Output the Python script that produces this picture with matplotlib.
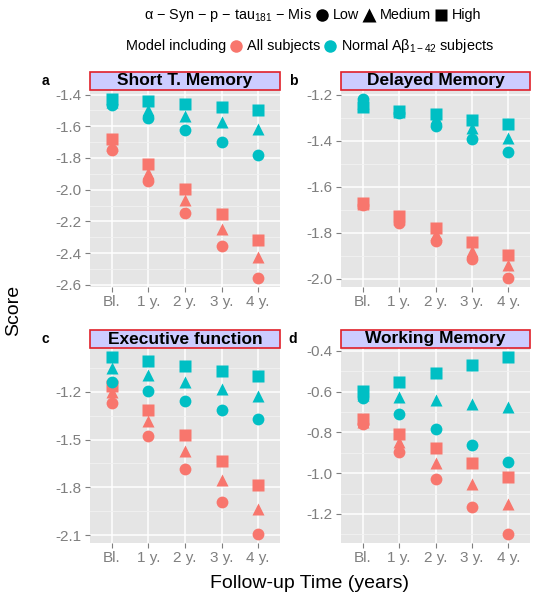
import matplotlib
matplotlib.use('Agg')
import matplotlib.pyplot as plt
from matplotlib.patches import Rectangle
from matplotlib.ticker import MultipleLocator, FuncFormatter

plt.rcParams['font.family'] = ['Liberation Sans', 'DejaVu Sans']
plt.rcParams['mathtext.fontset'] = 'custom'
plt.rcParams['mathtext.rm'] = 'Liberation Sans'
plt.rcParams['mathtext.it'] = 'Liberation Sans:italic'

# ---------------- data ----------------
times = ['Bl.', '1 y.', '2 y.', '3 y.', '4 y.']
levels = ['Low', 'Medium', 'High']
panel_titles = ['Short T. Memory', 'Delayed Memory', 'Executive function', 'Working Memory']
panel_letters = ['a', 'b', 'c', 'd']

stm_all_low = [-1.749, -1.947, -2.150, -2.354, -2.557]
stm_all_med = [-1.717, -1.893, -2.065, -2.247, -2.422]
stm_all_high = [-1.679, -1.835, -1.994, -2.154, -2.315]
stm_norm_low = [-1.469, -1.546, -1.625, -1.700, -1.782]
stm_norm_med = [-1.447, -1.496, -1.535, -1.576, -1.619]
stm_norm_high = [-1.428, -1.443, -1.458, -1.479, -1.496]

dm_all_low = [-1.680, -1.757, -1.836, -1.915, -1.996]
dm_all_med = [-1.676, -1.738, -1.804, -1.878, -1.940]
dm_all_high = [-1.672, -1.726, -1.779, -1.841, -1.895]
dm_norm_low = [-1.219, -1.278, -1.336, -1.394, -1.447]
dm_norm_med = [-1.237, -1.274, -1.303, -1.347, -1.387]
dm_norm_high = [-1.252, -1.270, -1.285, -1.311, -1.328]

ef_all_low = [-1.272, -1.479, -1.685, -1.892, -2.093]
ef_all_med = [-1.204, -1.384, -1.570, -1.755, -1.934]
ef_all_high = [-1.162, -1.314, -1.473, -1.634, -1.786]
ef_norm_low = [-1.141, -1.198, -1.257, -1.314, -1.374]
ef_norm_med = [-1.052, -1.094, -1.141, -1.183, -1.230]
ef_norm_high = [-0.982, -1.009, -1.041, -1.073, -1.103]

wm_all_low = [-0.761, -0.894, -1.029, -1.164, -1.299]
wm_all_med = [-0.748, -0.849, -0.952, -1.051, -1.151]
wm_all_high = [-0.736, -0.807, -0.877, -0.952, -1.018]
wm_norm_low = [-0.634, -0.711, -0.786, -0.864, -0.943]
wm_norm_med = [-0.615, -0.628, -0.642, -0.662, -0.678]
wm_norm_high = [-0.595, -0.554, -0.509, -0.471, -0.430]

panels = [
    {'all': [stm_all_low, stm_all_med, stm_all_high],
     'norm': [stm_norm_low, stm_norm_med, stm_norm_high], 'step': 0.2},
    {'all': [dm_all_low, dm_all_med, dm_all_high],
     'norm': [dm_norm_low, dm_norm_med, dm_norm_high], 'step': 0.2},
    {'all': [ef_all_low, ef_all_med, ef_all_high],
     'norm': [ef_norm_low, ef_norm_med, ef_norm_high], 'step': 0.3},
    {'all': [wm_all_low, wm_all_med, wm_all_high],
     'norm': [wm_norm_low, wm_norm_med, wm_norm_high], 'step': 0.2},
]

# ---------------- styles ----------------
RED = '#F8766D'
TEAL = '#00BFC4'
markers = ['o', '^', 's']
msizes = [8.5, 9.0, 8.0]
GREY = '#7F7F7F'

W, H = 543, 600
fig = plt.figure(figsize=(W / 100, H / 100), dpi=100)

# pixel boxes (left, top, right, bottom)
boxes = [(90, 90, 280, 287), (341, 90, 530, 287),
         (90, 348, 280, 543), (341, 348, 530, 543)]
strip_h = 18

for i, (pd, box) in enumerate(zip(panels, boxes)):
    l, t, r, b = box
    ax = fig.add_axes([l / W, 1 - b / H, (r - l) / W, (b - t) / H])
    ax.set_facecolor('#E5E5E5')
    for s in ax.spines.values():
        s.set_visible(False)
    x = list(range(len(times)))
    for j in range(3):
        ax.plot(x, pd['all'][j], linestyle='none', marker=markers[j],
                ms=msizes[j], color=RED, mec='none', zorder=3)
    for j in range(3):
        ax.plot(x, pd['norm'][j], linestyle='none', marker=markers[j],
                ms=msizes[j], color=TEAL, mec='none', zorder=3)
    ax.set_xlim(-0.6, len(times) - 0.4)
    ax.margins(y=0.05)
    ax.set_xticks(x)
    ax.set_xticklabels(times)
    step = pd['step']
    ax.yaxis.set_major_locator(MultipleLocator(step))
    ax.yaxis.set_minor_locator(MultipleLocator(step / 2))
    ax.yaxis.set_major_formatter(FuncFormatter(lambda v, p: '%.1f' % v))
    ax.grid(True, which='major', color='white', lw=1.1, zorder=0)
    ax.grid(True, which='minor', axis='y', color='#F2F2F2', lw=0.6, zorder=0)
    ax.set_axisbelow(True)
    ax.tick_params(axis='both', which='major', colors=GREY, labelcolor=GREY,
                   labelsize=11, length=3.5, width=0.8, pad=2.5)
    ax.tick_params(axis='y', which='minor', length=0)
    # strip
    sh = strip_h / (b - t)
    ax.add_patch(Rectangle((0, 1.0), 1.0, sh, transform=ax.transAxes,
                           facecolor='#CCCCFF', edgecolor='#E0202A', lw=1.2,
                           clip_on=False, zorder=5))
    ax.text(0.5, 1.0 + sh / 2, panel_titles[i], transform=ax.transAxes,
            ha='center', va='center', fontsize=12.5, fontweight='bold',
            color='black', zorder=6)
    # panel letter
    lx = 45 if i % 2 == 0 else 293
    ly = 81 if i < 2 else 339
    fig.text(lx / W, 1 - ly / H, panel_letters[i], ha='center', va='center',
             fontsize=10, fontweight='bold')

# axis titles
fig.text(14 / W, 1 - 310 / H, 'Score', rotation=90, ha='center', va='center',
         fontsize=14)
fig.text(310 / W, 1 - 584 / H, 'Follow-up Time (years)', ha='center',
         va='center', fontsize=14)

# ---------------- legends (overlay in pixel coords) ----------------
lax = fig.add_axes([0, 0, 1, 1])
lax.set_xlim(0, W)
lax.set_ylim(H, 0)
lax.axis('off')

renderer = fig.canvas.get_renderer()


def row(items, y, center):
    """items: ('t', text) or ('m', marker, color, size). Lays out centered."""
    artists = []
    widths = []
    for it in items:
        if it[0] == 't':
            ta = lax.text(0, y, it[1], ha='left', va='center', fontsize=10.4,
                          color='black')
            bb = ta.get_window_extent(renderer)
            artists.append(ta)
            widths.append(bb.width)
        else:
            artists.append(it)
            widths.append(14)
    gaps = [4 if it[0] == 'm' else 3 for it in items]
    total = sum(widths) + sum(gaps[:-1])
    xpos = center - total / 2
    for it, a, w, g in zip(items, artists, widths, gaps):
        if it[0] == 't':
            a.set_x(xpos)
        else:
            lax.plot([xpos + w / 2], [y], marker=it[1], color=it[2],
                     ms=it[3], mec='none', linestyle='none', clip_on=False)
        xpos += w + g


title1 = 'α \u2212 Syn \u2212 p \u2212 tau$_{\\mathrm{181}}$ \u2212 Mis'
row([('t', title1), ('m', 'o', 'black', 9), ('t', 'Low'),
     ('m', '^', 'black', 9.5), ('t', 'Medium'), ('m', 's', 'black', 8.5),
     ('t', 'High')], 15, 313)
row([('t', 'Model including'), ('m', 'o', RED, 9), ('t', 'All subjects'),
     ('m', 'o', TEAL, 9),
     ('t', 'Normal A\u03b2$_{\\mathrm{1-42}}$ subjects')], 46, 310)

fig.savefig('out.png', dpi=100)
